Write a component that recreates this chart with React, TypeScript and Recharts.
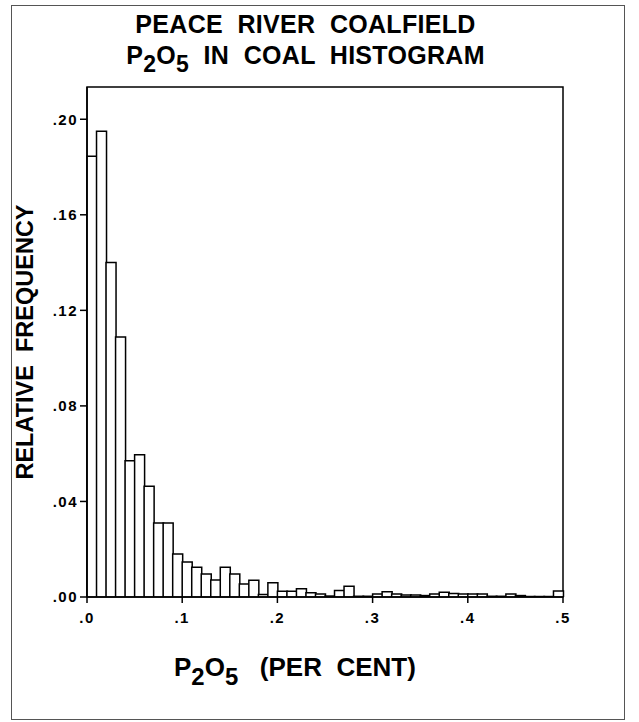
import React from 'react';
import { ComposedChart, Bar, Line, XAxis, YAxis, ReferenceArea } from 'recharts';

// Bin lower edges (P2O5 per cent), bin width 0.01
const binStarts = [
  0.0, 0.01, 0.02, 0.03, 0.04, 0.05, 0.06, 0.07, 0.08, 0.09,
  0.1, 0.11, 0.12, 0.13, 0.14, 0.15, 0.16, 0.17, 0.18, 0.19,
  0.2, 0.21, 0.22, 0.23, 0.24, 0.25, 0.26, 0.27, 0.28, 0.29,
  0.3, 0.31, 0.32, 0.33, 0.34, 0.35, 0.36, 0.37, 0.38, 0.39,
  0.4, 0.41, 0.42, 0.43, 0.44, 0.45, 0.46, 0.47, 0.48, 0.49,
];

// Relative frequency of each bin
const relFreq = [
  0.1845, 0.195, 0.14, 0.1088, 0.057, 0.0595, 0.0464, 0.031, 0.031, 0.018,
  0.0147, 0.0125, 0.0096, 0.0071, 0.0125, 0.0096, 0.0054, 0.007, 0.001, 0.006,
  0.0024, 0.0024, 0.0035, 0.0018, 0.0013, 0.0004, 0.0027, 0.0045, 0.0003, 0.0003,
  0.0013, 0.0022, 0.0013, 0.0008, 0.0008, 0.0006, 0.0013, 0.002, 0.0015, 0.0013,
  0.0013, 0.0013, 0.0003, 0.0003, 0.0013, 0.0006, 0.0002, 0.0002, 0.0002, 0.0025,
];

const yTicks = [0, 0.04, 0.08, 0.12, 0.16, 0.2];
const xTicks = [0, 0.1, 0.2, 0.3, 0.4, 0.5];
const yMax = 0.2135;
const xMax = 0.5;

const title1 = 'PEACE  RIVER  COALFIELD';
const title2Rest = '  IN  COAL  HISTOGRAM';
const xTitleRest = '   (PER  CENT)';
const yTitle = 'RELATIVE  FREQUENCY';

const data = binStarts.map((x0, i) => ({ bin: x0.toFixed(2), x0, f: relFreq[i] }));

const FONT = '"Liberation Sans", Arial, sans-serif';
const tickStyle = { fill: '#000', fontSize: 15, fontWeight: 700, fontFamily: FONT, letterSpacing: 1.5 };

const fmtY = (v: number) => '.' + String(Math.round(v * 100)).padStart(2, '0');
const fmtX = (v: number) => '.' + String(Math.round(v * 10));

const Sub = ({ children }: { children: React.ReactNode }) => (
  <span style={{ position: 'relative', top: '0.36em', fontSize: '0.92em' }}>{children}</span>
);

const titleStyle: React.CSSProperties = {
  position: 'absolute',
  left: 0,
  width: 611,
  textAlign: 'center',
  fontSize: 25,
  fontWeight: 700,
  lineHeight: '25px',
  letterSpacing: 0.3,
  whiteSpace: 'pre',
};

export default function App() {
  return (
    <div style={{ position: 'absolute', left: 0, top: 0, width: 639, height: 722, background: '#fff', fontFamily: FONT }}>
      <div style={{ position: 'absolute', left: 11, top: 5, width: 614, height: 715, border: '1px solid #555', boxSizing: 'border-box' }} />
      <div style={{ ...titleStyle, top: 12 }}>{title1}</div>
      <div style={{ ...titleStyle, top: 43 }}>
        P<Sub>2</Sub>O<Sub>5</Sub>{title2Rest}
      </div>
      <div style={{ position: 'absolute', left: 25, top: 342, width: 0, height: 0 }}>
        <div style={{ position: 'absolute', left: 0, top: 0, transform: 'translate(-50%, -50%) rotate(-90deg)', fontSize: 23.5, fontWeight: 700, whiteSpace: 'pre', lineHeight: '24px' }}>
          {yTitle}
        </div>
      </div>
      <div style={{ position: 'absolute', left: 174, top: 654, fontSize: 26, fontWeight: 700, lineHeight: '26px', whiteSpace: 'pre' }}>
        P<Sub>2</Sub>O<Sub>5</Sub>{xTitleRest}
      </div>
      <div style={{ position: 'absolute', left: 0, top: 0 }}>
        <ComposedChart
          width={639}
          height={722}
          data={data}
          barCategoryGap={0}
          barGap={0}
          margin={{ top: 87, right: 76, bottom: 95, left: 27 }}
        >
          <XAxis xAxisId="cat" dataKey="bin" type="category" hide height={0} />
          <XAxis
            xAxisId="num"
            dataKey="x0"
            type="number"
            domain={[0, xMax]}
            ticks={xTicks}
            tickFormatter={fmtX}
            tick={tickStyle}
            tickSize={6}
            tickMargin={9}
            height={30}
            axisLine={{ stroke: '#000', strokeWidth: 1.5 }}
            tickLine={{ stroke: '#000', strokeWidth: 1.5 }}
            allowDataOverflow
          />
          <YAxis
            type="number"
            domain={[0, yMax]}
            ticks={yTicks}
            tickFormatter={fmtY}
            tick={tickStyle}
            tickSize={7}
            tickMargin={2}
            width={60}
            axisLine={{ stroke: '#000', strokeWidth: 1.5 }}
            tickLine={{ stroke: '#000', strokeWidth: 1.5 }}
            allowDataOverflow
          />
          <ReferenceArea
            xAxisId="num"
            x1={0}
            x2={xMax}
            y1={0}
            y2={yMax}
            fill="none"
            stroke="#000"
            strokeWidth={1.5}
            ifOverflow="visible"
          />
          <Bar xAxisId="cat" dataKey="f" fill="#fff" stroke="#000" strokeWidth={1.5} isAnimationActive={false} />
          <Line xAxisId="num" dataKey="f" stroke="none" dot={false} activeDot={false} isAnimationActive={false} />
        </ComposedChart>
      </div>
    </div>
  );
}
